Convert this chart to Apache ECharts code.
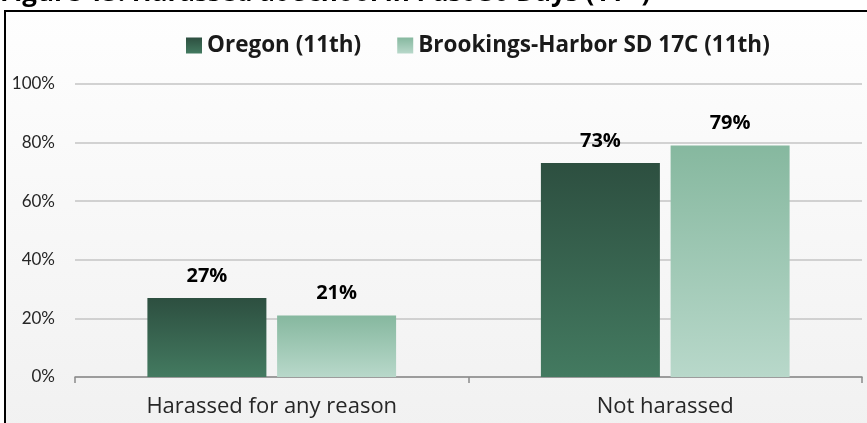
<!DOCTYPE html>
<html>
<head>
<meta charset="utf-8">
<style>
  html, body { margin: 0; padding: 0; background: #ffffff; }
  #chart { width: 867px; height: 423px; }
</style>
<script src="https://cdn.jsdelivr.net/npm/echarts@6/dist/echarts.min.js"></script>
</head>
<body>
<div id="chart"></div>
<script>
const categories = ['Harassed for any reason', 'Not harassed'];
const seriesNames = ['Oregon (11th)', 'Brookings-Harbor SD 17C (11th)'];
const oregonValues = [27, 73];
const brookingsValues = [21, 79];
const titleMain = 'Figure 15. Harassed at School in Past 30 Days (11';
const titleSup = 'th';
const titleEnd = ')';
const FONT = '"Open Sans", Lato, sans-serif';
const YFONT = 'Lato, "Open Sans", sans-serif';
const TITLE_FONT = 'bold 26px ' + FONT;
const SUP_FONT = 'bold 16px ' + FONT;

function measure(text, font) {
  const c = document.createElement('canvas').getContext('2d');
  c.font = font;
  return c.measureText(text).width;
}

const chart = echarts.init(document.getElementById('chart'), null, { renderer: 'canvas' });

function grad(top, bottom) {
  return new echarts.graphic.LinearGradient(0, 0, 0, 1, [
    { offset: 0, color: top },
    { offset: 1, color: bottom }
  ]);
}

function buildOption() {
  const mainW = measure(titleMain, TITLE_FONT);
  const supW = measure(titleSup, SUP_FONT);
  return {
    animation: false,
    backgroundColor: '#ffffff',
    graphic: [
      {
        type: 'rect', z: -10, silent: true,
        shape: { x: 5, y: 11, width: 870, height: 420 },
        style: {
          fill: new echarts.graphic.LinearGradient(0, 0, 0, 1, [
            { offset: 0, color: '#fefefe' }, { offset: 1, color: '#f1f1f1' }
          ]),
          stroke: '#000000', lineWidth: 2
        }
      },
      {
        type: 'text', silent: true, left: 0, top: -19,
        style: { text: titleMain, font: TITLE_FONT, fill: '#000' }
      },
      {
        type: 'text', silent: true, left: mainW, top: -24,
        style: { text: titleSup, font: SUP_FONT, fill: '#000' }
      },
      {
        type: 'text', silent: true, left: mainW + supW, top: -19,
        style: { text: titleEnd, font: TITLE_FONT, fill: '#000' }
      }
    ],
    legend: {
      top: 29,
      left: 181,
      itemWidth: 16,
      itemHeight: 16,
      itemGap: 36,
      icon: 'rect',
      textStyle: { fontFamily: FONT, fontWeight: 'bold', fontSize: 22.5, color: '#1a1a1a' },
      data: seriesNames
    },
    grid: { left: 75, right: 5, top: 84, bottom: 46, containLabel: false },
    xAxis: {
      type: 'category',
      data: categories,
      axisLine: { lineStyle: { color: '#8a8a8a', width: 1.5 } },
      axisTick: { show: true, length: 6, lineStyle: { color: '#8a8a8a', width: 1.5 } },
      axisLabel: { fontFamily: FONT, fontSize: 22, color: '#262626', margin: 19 }
    },
    yAxis: {
      type: 'value',
      min: 0, max: 100, interval: 20,
      axisLine: { show: false },
      axisTick: { show: false },
      axisLabel: { formatter: '{value}%', fontFamily: YFONT, fontSize: 17, color: '#262626', margin: 20 },
      splitLine: { lineStyle: { color: '#c4c4c4', width: 1.5 } }
    },
    series: [
      {
        name: seriesNames[0],
        type: 'bar',
        data: oregonValues,
        barWidth: 119,
        barGap: '9%',
        itemStyle: { color: grad('#2d4f40', '#437a60') },
        label: { show: true, position: 'top', distance: 12, formatter: '{c}%', fontFamily: FONT, fontWeight: 'bold', fontSize: 20, color: '#000' }
      },
      {
        name: seriesNames[1],
        type: 'bar',
        data: brookingsValues,
        barWidth: 119,
        barGap: '9%',
        itemStyle: { color: grad('#86b89f', '#b8d8ca') },
        label: { show: true, position: 'top', distance: 12, formatter: '{c}%', fontFamily: FONT, fontWeight: 'bold', fontSize: 20, color: '#000' }
      }
    ]
  };
}

function render() { chart.setOption(buildOption(), true); }
if (document.fonts && document.fonts.load) {
  document.fonts.load(TITLE_FONT).then(render, render);
}
render();
</script>
</body>
</html>
